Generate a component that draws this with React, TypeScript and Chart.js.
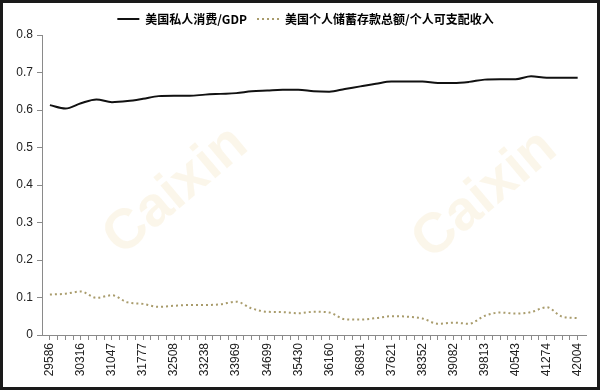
import React, { useEffect, useRef } from "react";
import { Chart, registerables } from "chart.js";

Chart.register(...registerables);

const dates: number[] = [
  29586, 29951, 30316, 30681, 31047, 31412, 31777, 32142, 32508, 32873, 33238, 33603,
  33969, 34334, 34699, 35064, 35430, 35795, 36160, 36525, 36891, 37256, 37621, 37986,
  38352, 38717, 39082, 39447, 39813, 40178, 40543, 40908, 41274, 41639, 42004,
];

const consumptionGdp: number[] = [
  0.613, 0.604, 0.618, 0.628, 0.621, 0.624, 0.63, 0.637, 0.638, 0.638, 0.641, 0.643,
  0.645, 0.65, 0.652, 0.654, 0.654, 0.65, 0.649, 0.656, 0.663, 0.67, 0.676, 0.676,
  0.676, 0.672, 0.672, 0.675, 0.681, 0.682, 0.682, 0.69, 0.686, 0.686, 0.686,
];

const savingsIncome: number[] = [
  0.108, 0.11, 0.116, 0.099, 0.106, 0.087, 0.083, 0.075, 0.078, 0.08, 0.08, 0.082,
  0.089, 0.071, 0.062, 0.061, 0.058, 0.062, 0.06, 0.042, 0.041, 0.045, 0.05, 0.049,
  0.044, 0.03, 0.033, 0.03, 0.051, 0.06, 0.057, 0.061, 0.074, 0.049, 0.045,
];

const xTickLabels: number[] = [
  29586, 30316, 31047, 31777, 32508, 33238, 33969, 34699, 35430, 36160, 36891, 37621,
  38352, 39082, 39813, 40543, 41274, 42004,
];

const seriesNames: string[] = ["美国私人消费/GDP", "美国个人储蓄存款总额/个人可支配收入"];

const watermarkPlugin = {
  id: "watermark",
  beforeDatasetsDraw(chart: any) {
    const ctx = chart.ctx;
    const marks = [
      [173, 188],
      [482, 192],
    ];
    ctx.save();
    ctx.font = "bold 56px 'Liberation Sans', Arial, sans-serif";
    ctx.fillStyle = "rgba(240, 224, 178, 0.28)";
    ctx.textAlign = "center";
    ctx.textBaseline = "middle";
    for (const [x, y] of marks) {
      ctx.save();
      ctx.translate(x, y);
      ctx.rotate((-40 * Math.PI) / 180);
      ctx.fillText("Caixin", 0, 0);
      ctx.restore();
    }
    ctx.restore();
  },
};

const legendShiftPlugin = {
  id: "legendShift",
  afterLayout(chart: any) {
    if (chart.legend) {
      chart.legend.left += 11;
      chart.legend.right += 11;
    }
  },
};

export default function App() {
  const ref = useRef<HTMLCanvasElement | null>(null);

  useEffect(() => {
    if (!ref.current) return;
    const tickValues: number[] = [];
    for (let i = 0; i < xTickLabels.length; i++) {
      tickValues.push(xTickLabels[i]);
      if (i < xTickLabels.length - 1) {
        const a = xTickLabels[i];
        const b = xTickLabels[i + 1];
        for (let j = 1; j < 4; j++) tickValues.push(a + ((b - a) * j) / 4);
      }
    }
    const labelSet = new Set(xTickLabels);
    const defaultGen = (Chart as any).defaults.plugins.legend.labels.generateLabels;

    const chart = new Chart(ref.current, {
      type: "line",
      data: {
        datasets: [
          {
            label: seriesNames[0],
            data: dates.map((d, i) => ({ x: d, y: consumptionGdp[i] })),
            borderColor: "#111111",
            backgroundColor: "#111111",
            borderWidth: 2,
            pointRadius: 0,
            cubicInterpolationMode: "monotone",
            fill: false,
          },
          {
            label: seriesNames[1],
            data: dates.map((d, i) => ({ x: d, y: savingsIncome[i] })),
            borderColor: "#a99c6c",
            backgroundColor: "#a99c6c",
            borderWidth: 2,
            borderDash: [2, 3],
            pointRadius: 0,
            cubicInterpolationMode: "monotone",
            fill: false,
          },
        ],
      },
      options: {
        animation: false,
        responsive: false,
        maintainAspectRatio: false,
        layout: { padding: { left: 0, right: 11, top: 0, bottom: 0 } },
        plugins: {
          tooltip: { enabled: false },
          legend: {
            position: "top",
            labels: {
              usePointStyle: true,
              pointStyle: "line",
              pointStyleWidth: 22,
              boxHeight: 12,
              padding: 10,
              color: "#000",
              font: { family: "'Noto Sans CJK SC', sans-serif", size: 12, weight: "bold" },
              generateLabels: (c: any) => {
                const items = defaultGen(c);
                items.forEach((it: any) => {
                  const ds = c.data.datasets[it.datasetIndex];
                  it.lineDash = ds.borderDash || [];
                  it.lineWidth = ds.borderWidth;
                  it.strokeStyle = ds.borderColor;
                });
                return items;
              },
            },
          },
        },
        scales: {
          x: {
            type: "linear",
            min: 29400,
            max: 42200,
            afterBuildTicks: (scale: any) => {
              scale.ticks = tickValues.map((v) => ({ value: v }));
            },
            afterFit: (scale: any) => {
              scale.height = 52;
            },
            grid: {
              drawOnChartArea: false,
              drawTicks: true,
              tickLength: 5,
              color: "#8a8a8a",
            },
            border: { color: "#8a8a8a", width: 1 },
            ticks: {
              autoSkip: false,
              maxRotation: 90,
              minRotation: 90,
              padding: 3,
              color: "#222",
              font: { family: "'Liberation Sans', Arial, sans-serif", size: 12 },
              callback: (v: any) => (labelSet.has(Number(v)) ? String(v) : ""),
            },
          },
          y: {
            min: 0,
            max: 0.8,
            afterFit: (scale: any) => {
              scale.width = 39;
            },
            grid: {
              drawOnChartArea: false,
              drawTicks: true,
              tickLength: 5,
              color: "#8a8a8a",
            },
            border: { color: "#8a8a8a", width: 1 },
            ticks: {
              stepSize: 0.1,
              padding: 4,
              color: "#222",
              font: { family: "'Liberation Sans', Arial, sans-serif", size: 12 },
              callback: (v: any) => (Number(v) === 0 ? "0" : Number(v).toFixed(1)),
            },
          },
        },
      },
      plugins: [watermarkPlugin, legendShiftPlugin],
    } as any);
    return () => chart.destroy();
  }, []);

  return (
    <div
      style={{
        position: "absolute",
        left: 0,
        top: 0,
        width: 600,
        height: 390,
        background: "#1a1a1a",
      }}
    >
      <div
        style={{
          position: "absolute",
          left: 3,
          top: 3,
          width: 594,
          height: 384,
          background: "#fff",
        }}
      >
        <canvas ref={ref} width={594} height={384} style={{ display: "block", width: 594, height: 384 }} />
      </div>
    </div>
  );
}
